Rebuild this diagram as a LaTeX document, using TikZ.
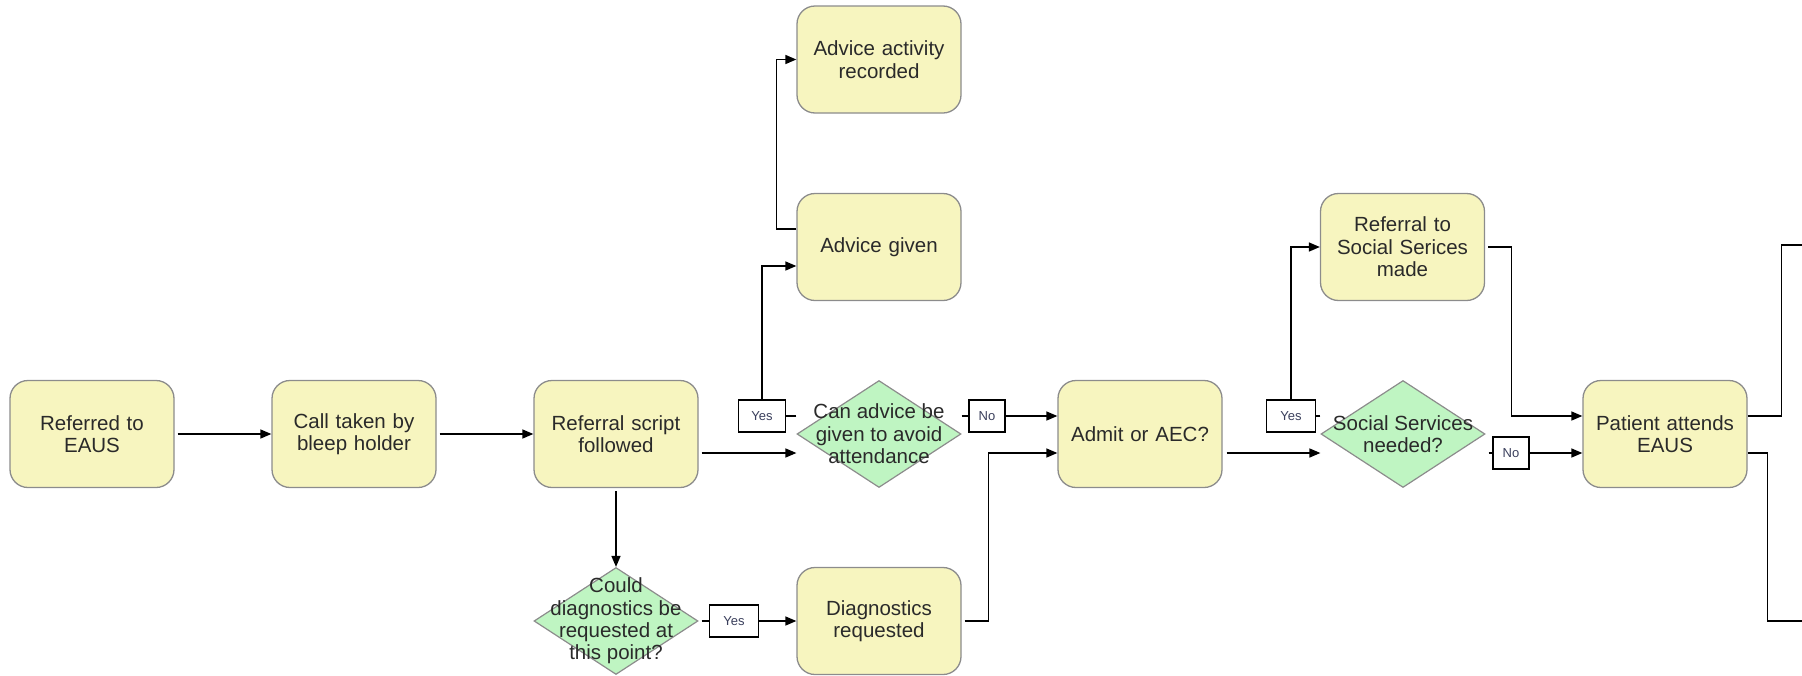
\documentclass[tikz,border=0pt]{standalone}
\usepackage{fontspec}
\setmainfont{Liberation Sans}
\usetikzlibrary{shapes.geometric,arrows.meta}
\definecolor{boxfill}{HTML}{F7F5BF}
\definecolor{boxline}{HTML}{8C8C8C}
\definecolor{diafill}{HTML}{BFF5C2}
\definecolor{txt}{HTML}{2A2A2A}
\definecolor{lbltxt}{HTML}{3A3F5C}
\begin{document}
\begin{tikzpicture}[x=1pt,y=-1pt,
  proc/.style={rectangle, rounded corners=18pt, draw=boxline, line width=1.3pt, fill=boxfill,
    minimum width=164pt, minimum height=107pt, inner sep=0pt, text width=160pt, align=center,
    font=\fontsize{20.5}{22.4}\selectfont, text=txt},
  dec/.style={diamond, draw=boxline, line width=1.2pt, fill=diafill,
    minimum width=164pt, minimum height=107pt, inner sep=0pt},
  dtext/.style={align=center, inner sep=0pt, font=\fontsize{20.5}{22.4}\selectfont, text=txt},
  lbl/.style={draw=black, fill=white, line width=1.2pt, minimum height=32pt, inner sep=0pt,
    font=\fontsize{13}{15}\selectfont, text=lbltxt},
  conn/.style={line width=1.5pt},
  arr/.style={conn, -{Triangle[length=11pt,width=9pt]}}
]
\useasboundingbox (0,0) rectangle (1802,675);

% process boxes
\node[proc] (ref)     at (92,434)    {Referred to\\EAUS};
\node[proc] (call)    at (354,434)   {Call taken by\\bleep holder};
\node[proc] (script)  at (616,434)   {Referral script\\followed};
\node[proc] (rec)     at (879,59.5)  {Advice activity\\recorded};
\node[proc] (given)   at (879,247)   {Advice given};
\node[proc] (admit)   at (1140,434)  {Admit or AEC?};
\node[proc] (refss)   at (1402.5,247){Referral to\\Social Serices\\made};
\node[proc] (patient) at (1665,434)  {Patient attends\\EAUS};
\node[proc] (diag)    at (879,621)   {Diagnostics\\requested};

% decisions
\node[dec, label={[dtext]center:{Can advice be\\given to avoid\\attendance}}] (can) at (879,434) {};
\node[dec, label={[dtext]center:{Social Services\\needed?}}] (social) at (1403,434) {};
\node[dec, label={[dtext]center:{Could\\diagnostics be\\requested at\\this point?}}] (could) at (616,621) {};

% corner / label points and free ends
\coordinate (c1) at (762,416);
\coordinate (n1) at (987,416);
\coordinate (c2) at (1291,416);
\coordinate (n2) at (1511,453);
\coordinate (c3) at (734,621);
\coordinate (o1) at (1802,245);
\coordinate (o2) at (1802,621);

% connectors
\draw[arr] ([xshift=3pt]ref.east) -- (call.west);
\draw[arr] ([xshift=3pt]call.east) -- (script.west);
\draw[arr] ([xshift=3pt,yshift=-19pt]script.east) -- ([yshift=-19pt]can.west);
\draw[arr] ([yshift=-3pt]script.south) -- (could.north);
\draw[arr] ([yshift=18pt]can.west) -- (c1) node[lbl, minimum width=47pt] {Yes} |- ([yshift=-19pt]given.west);
\draw[arr] ([yshift=18pt]given.west) -- ++(-20,0) |- (rec.west);
\draw[arr] ([yshift=18pt]can.east) -- (n1) node[lbl, minimum width=36pt] {No} -- ([yshift=18pt]admit.west);
\draw[arr] ([xshift=3pt]could.east) -- (c3) node[lbl, minimum width=49pt] {Yes} -- (diag.west);
\draw[arr] ([xshift=3pt]diag.east) -- ++(24,0) |- ([yshift=-19pt]admit.west);
\draw[arr] ([xshift=4pt,yshift=-19pt]admit.east) -- ([yshift=-19pt]social.west);
\draw[arr] ([yshift=18pt]social.west) -- (c2) node[lbl, minimum width=49pt] {Yes} |- (refss.west);
\draw[arr] ([xshift=3pt,yshift=-19pt]social.east) -- (n2) node[lbl, minimum width=36pt] {No} -- ([yshift=-19pt]patient.west);
\draw[arr] ([xshift=3pt]refss.east) -- ++(23.5,0) |- ([yshift=18pt]patient.west);
\draw[conn] ([yshift=18pt]patient.east) -- ++(34,0) |- (o1);
\draw[conn] ([yshift=-19pt]patient.east) -- ++(20,0) |- (o2);
\end{tikzpicture}
\end{document}
